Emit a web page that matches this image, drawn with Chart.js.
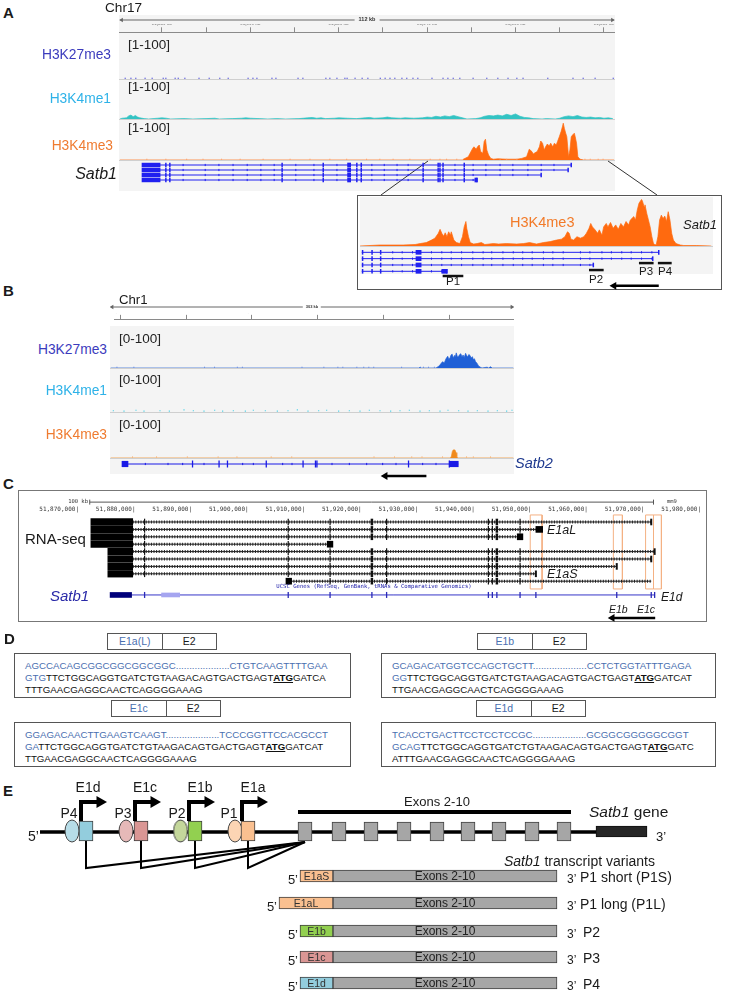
<!DOCTYPE html>
<html>
<head>
<meta charset="utf-8">
<title>Satb1 / Satb2 promoters</title>
<script src="https://cdn.jsdelivr.net/npm/chart.js@4.4.1/dist/chart.umd.min.js"></script>
<style>
  body { margin: 0; background: #fff; }
  #page { position: relative; width: 729px; height: 993px; overflow: hidden; font-family: Arial, "Liberation Sans", sans-serif; color: #1a1a1a; }
  #page canvas { position: absolute; }
  .t { position: absolute; white-space: nowrap; }
  .r { position: absolute; box-sizing: border-box; }
  .seq { position: absolute; box-sizing: border-box; border: 1.3px solid #555; font-size: 9.7px; line-height: 11.8px; padding: 6px 0 0 10px; white-space: nowrap; color: #111; }
  .seq .b { color: #4a6fb0; }
  .seq u { font-weight: bold; }
  .lab { position: absolute; box-sizing: border-box; border: 1.3px solid #555; display: flex; font-size: 10.5px; }
  .lab span { flex: 1; text-align: center; line-height: 14px; }
</style>
</head>
<body>
<div id="page"></div>
<script>
// ---------- A: chr17, Satb1 locus (kb) ----------
const aRange = [51870.3, 51982.5];
const aK27Dots = [51871.7, 51873.0, 51874.1, 51876.2, 51877.8, 51880.3, 51880.9, 51883.0, 51883.7, 51885.2, 51888.4, 51890.7, 51893.1, 51895.0, 51899.5, 51900.6, 51901.5, 51904.9, 51905.8, 51910.8, 51911.9, 51917.1, 51918.0, 51919.6, 51921.4, 51921.9, 51923.7, 51925.3, 51926.6, 51929.4, 51930.5, 51931.6, 51932.7, 51934.3, 51935.4, 51936.8, 51937.9, 51941.1, 51943.6, 51944.7, 51945.9, 51947.4, 51950.4, 51953.5, 51956.0, 51958.3, 51960.3, 51961.7, 51967.3, 51973.0, 51975.3, 51978.0, 51982.1];
const aK4me1 = [[51870.5,0],[51871,2],[51872,3],[51872.5,8],[51873,10],[51873.5,6],[51874,9],[51874.5,5],[51875,3],[51876,1],[51877,0],[51879,2],[51880,3],[51881,2],[51882,0],[51885,1],[51887,0],[51890,1],[51892,2],[51893,0],[51896,1],[51898,2],[51899,3],[51900,2],[51902,1],[51904,0],[51906,1],[51908,0],[51911,1],[51913,3],[51914,4],[51915,2],[51916,3],[51917,1],[51919,2],[51920,3],[51922,2],[51924,1],[51926,3],[51927,4],[51928,2],[51930,3],[51931,5],[51932,3],[51934,2],[51935,3],[51937,2],[51939,3],[51940,5],[51941,4],[51942,7],[51943,5],[51944,8],[51945,6],[51946,9],[51947,6],[51948,3],[51949,0],[51951,1],[51952,3],[51953,7],[51954,9],[51955,8],[51956,10],[51957,8],[51958,12],[51959,9],[51960,13],[51961,7],[51962,4],[51963,3],[51964,1],[51966,0],[51967,1],[51969,0],[51970,2],[51971,6],[51972,8],[51973,6],[51974,9],[51975,5],[51976,4],[51977,5],[51978,3],[51979,4],[51980,2],[51981,3],[51982,1]];
const aK4me3 = [[51870.5,0],[51948.0,0],[51948.2,2],[51949.3,8],[51950.3,29],[51950.6,33],[51951.1,27],[51951.4,33],[51951.8,37.5],[51952.1,21],[51952.6,17],[51952.9,46],[51953.2,52],[51953.5,25],[51953.9,12.5],[51954.4,4],[51955.0,2],[51956.0,3],[51958.0,2],[51960.3,2],[51961.4,4],[51962.5,8],[51963.1,27],[51963.7,21],[51964.0,15],[51964.4,18],[51964.9,21],[51965.4,33],[51965.7,47.5],[51966.1,42],[51966.5,25],[51966.8,33],[51967.2,40],[51967.6,35],[51967.96,42],[51968.4,33],[51968.8,42],[51969.2,37.5],[51969.5,46],[51969.9,58],[51970.3,71],[51970.6,83],[51970.8,92],[51971.05,79],[51971.35,67],[51971.6,58],[51971.8,33],[51972.0,8],[51972.3,25],[51972.6,58],[51972.9,62.5],[51973.3,67],[51973.5,58],[51973.8,42],[51974.1,8],[51974.6,2],[51975.4,0],[51982.3,0]];
const aK4me3Dots = [51876.6, 51880.9, 51885.6, 51889.3, 51893.5, 51897.7, 51902.9, 51909.0, 51913.5, 51918.0, 51921.8, 51926.3, 51929.3, 51932.3, 51936.1, 51940.7, 51942.9, 51944.4, 51946.7, 51956.5, 51958.0, 51960.3, 51975.7, 51976.9, 51978.7, 51979.8];
const aSatb1Rows = [[51875.5, 51972.6], [51875.5, 51971.9], [51875.5, 51965.8], [51875.5, 51951.3]];
const aSatb1Utr = [51875.5, 51879.6];
const aSatb1Wide = [51922.0, 51922.7];
const aSatb1EndBlock = [51950.8, 51951.3];
const aSatb1Exons = [51880.9, 51881.8, 51907.2, 51916.5, 51924.1, 51925.1, 51939.1, 51942.5, 51942.9, 51943.6, 51948.4];
const aSatb1Arrows = [51884.8, 51889.8, 51892.9, 51896.1, 51899.3, 51902.4, 51905.4, 51910.3, 51914.4, 51919.6, 51927.5, 51930.3, 51933.2, 51935.7, 51946.3, 51950.4, 51953.3, 51956.5, 51959.4, 51962.8, 51965.8, 51968.7];

// A inset (zoom on promoters)
const aInsetRange = [51941, 51982];
const aInset = [[51941.0,0],[51943.3,2],[51946.0,2],[51947.4,3],[51948.0,5],[51948.7,7],[51949.3,12],[51949.7,16],[51950.1,26],[51950.3,34],[51950.5,26],[51950.7,20],[51950.9,27],[51951.1,19],[51951.3,29],[51951.5,22],[51951.6,29],[51951.9,12],[51952.2,7],[51952.6,5],[51952.9,19],[51953.1,39],[51953.3,50],[51953.4,36],[51953.6,19],[51953.8,7],[51954.2,4],[51954.6,5],[51955.1,7],[51955.5,3],[51956.5,5],[51957.1,4],[51958.0,5],[51959.2,4],[51960.0,5],[51960.7,7],[51961.5,4],[51962.3,7],[51963.1,9],[51963.8,12],[51964.4,14],[51964.8,19],[51965.1,29],[51965.3,26],[51965.5,14],[51965.8,12],[51966.2,19],[51966.6,16],[51967.0,19],[51967.3,26],[51967.6,36],[51967.8,46],[51968.0,39],[51968.3,33],[51968.6,26],[51968.8,33],[51969.1,22],[51969.3,39],[51969.6,46],[51969.8,39],[51970.1,48],[51970.4,36],[51970.7,43],[51971.0,34],[51971.3,46],[51971.6,39],[51971.9,50],[51972.2,43],[51972.4,53],[51972.8,60],[51973.0,53],[51973.2,73],[51973.4,87],[51973.5,90],[51973.7,95],[51973.8,92],[51974.0,80],[51974.1,84],[51974.3,67],[51974.5,53],[51974.7,39],[51974.9,19],[51975.1,4],[51975.4,2],[51975.6,19],[51975.8,53],[51976.0,63],[51976.2,56],[51976.4,61],[51976.6,50],[51976.8,70],[51977.0,53],[51977.2,26],[51977.4,12],[51977.7,5],[51978.2,2],[51978.6,1],[51980.1,1],[51981.8,0]];
const aInsetRows = [[51941.2, 51975.7], [51941.2, 51975.0], [51941.2, 51968.1], [51941.2, 51951.1]];
const aInsetExons = [51941.3, 51942.4, 51943.4];
const aInsetWide = [51947.5, 51948.1];
const aInsetEndBlock = [51950.5, 51951.1];
const aInsetArrows = [51944.8, 51945.9, 51947.1, 51949.3, 51950.5, 51951.6, 51952.8, 51954.1, 51955.3, 51956.3, 51957.6, 51958.8, 51959.9, 51961.0, 51962.3, 51963.4, 51964.6, 51966.6, 51967.7, 51969.1, 51970.2, 51971.4, 51972.5, 51973.7, 51974.9];
const aPromoters = ['P1', 'P2', 'P3', 'P4'];
const aPromoterSpan = [[51950.6, 51953.0], [51967.6, 51969.3], [51973.4, 51975.1], [51975.6, 51977.2]];
const aPromoterRow = [3.74, 2.8, 1.7, 1.7];
const aDirArrow = [51975.7, 51970.5];

// ---------- B: chr1, Satb2 locus (kb) ----------
const bRange = [56795.5, 57098.5];
const bK27 = [[56796,0],[57027,0],[57028.2,2],[57029,0],[57040,0],[57042.4,5],[57043.6,10],[57044.9,15],[57046.2,12],[57047.5,22],[57048.8,28],[57049.7,20],[57050.6,25],[57051.3,31],[57052.1,33],[57053.0,24],[57053.9,30],[57054.5,27],[57055.2,36],[57056.1,26],[57057.0,28],[57057.8,32],[57058.6,34],[57059.5,26],[57060.3,31],[57061.2,25],[57062.2,35],[57063.0,29],[57063.7,27],[57064.6,32],[57065.5,30],[57066.4,24],[57067.3,27],[57068.0,20],[57068.8,22],[57069.7,15],[57070.6,12],[57071.9,5],[57073.2,2],[57074.5,0],[57078.3,2],[57079.5,0],[57080.9,3],[57082.1,0],[57098,0]];
const bK27Dots = [56800.7, 56813.4, 56866.4, 56873.9, 56891.0, 56894.8, 56939.5, 56955.9, 56966.4, 56970.1, 56980.6, 56985.8, 56989.6, 56993.3, 57014.2, 57030.6, 57034.4, 57038.8];
const bK4me1 = [[56798,3],[56806,2],[56815,4],[56821,2],[56833,3],[56840,2],[56851,5],[56858,3],[56866,2],[56874,4],[56880,2],[56888,3],[56897,2],[56903,4],[56912,3],[56921,2],[56929,3],[56936,5],[56944,2],[56952,3],[56958,4],[56967,2],[56975,3],[56983,2],[56990,4],[56998,3],[57006,2],[57013,3],[57020,4],[57028,2],[57035,3],[57043,2],[57049,4],[57057,3],[57064,2],[57071,3],[57079,2],[57086,3],[57093,2],[57097,4]];
const bK4me3 = [[56796,0],[57050.8,0],[57051.6,4],[57052.2,14],[57052.9,18],[57054.2,18],[57055.0,12],[57055.6,3],[57056.3,0],[57098,0]];
const bK4me3Dots = [56812.4, 56830.4, 56853.5, 56876.6, 56890.7, 56916.4, 56931.8, 56993.5, 57008.9, 57021.8, 57029.5, 57044.9, 57062.9, 57068.0, 57080.9];
const bSatb2 = [56804.5, 57056.7];
const bSatb2Blocks = [[56804.5, 56809.0], [57050.0, 57056.7]];
const bSatb2Exons = [56857.4, 56877.3, 56883.6, 56912.7, 56940.3, 56949.6, 56950.7, 57019.4, 57050.0];
const bSatb2Arrows = [56822, 56839, 56850, 56866, 56895, 56903, 56925, 56932, 56962, 56975, 56988, 57000, 57010, 57030, 57040];
const bDirArrow = [57032.8, 57001.9];

// ---------- C: UCSC RNA-seq (kb, mm9) ----------
const cRange = [51870, 51980];
const cScaleBar = [51871.9, 51971.6];
const cRowStart = [51872.1, 51872.1, 51872.1, 51872.1, 51875.1, 51875.1, 51875.1, 51875.1, 51907.0];
const cRowEnd = [51971.2, 51952.0, 51948.0, 51914.4, 51971.8, 51971.2, 51965.1, 51950.8, 51971.2];
const cBlockEnd = 51879.5;
const cExons = [51881.6, 51907.0, 51914.4, 51921.8, 51924.4, 51942.4, 51943.1, 51943.9, 51948.0];
const cThickExons = [51921.8, 51943.9];
const cEndBlocks = [[51950.8, 51952.0, 1], [51947.5, 51948.5, 2], [51913.9, 51914.9, 3], [51906.6, 51907.6, 8]];
const cGeneSpan = [51879.3, 51971.8];
const cGeneUtr = [51875.5, 51879.3];
const cGeneLight = [51884.6, 51887.8];
const cGeneExons = [51881.6, 51907.0, 51914.4, 51921.8, 51924.4, 51942.4, 51943.1, 51943.9, 51948.0, 51950.8, 51965.1, 51971.2, 51971.8];
const cExon1Boxes = [[51949.8, 51951.9], [51964.5, 51966.1], [51970.2, 51971.6], [51971.6, 51973.0]];
const cDirArrow = [51971.9, 51964.3];

// ---------- D: exon1/exon2 junction sequences ----------
const dLabels = ['E1a(L)', 'E1b', 'E1c', 'E1d'];
const dSeq = [
  ['AGCCACAGCGGCGGCGGCGGC....................CTGTCAAGTTTTGAA', 'GTG', 'GATCA', 'TTTGAACGAGGCAACTCAGGGGAAAG'],
  ['GCAGACATGGTCCAGCTGCTT....................CCTCTGGTATTTGAGA', 'GG', 'GATCAT', 'TTGAACGAGGCAACTCAGGGGAAAG'],
  ['GGAGACAACTTGAAGTCAAGT....................TCCCGGTTCCACGCCT', 'GA', 'GATCAT', 'TTGAACGAGGCAACTCAGGGGAAAG'],
  ['TCACCTGACTTCCTCCTCCGC....................GCGGCGGGGGCGGT', 'GCAG', 'GATC', 'ATTTGAACGAGGCAACTCAGGGGAAAG']
];
const dExon2 = 'TTCTGGCAGGTGATCTGTAAGACAGTGACTGAGT';

// ---------- E: schematic (schematic units) ----------
const eExon1 = ['E1d', 'E1c', 'E1b', 'E1a'];
const ePromoter = ['P4', 'P3', 'P2', 'P1'];
const eExon1Span = [[59, 73], [114, 128], [168, 182], [221, 235]];
const eExon1Color = ['#93cddd', '#da9694', '#92d050', '#fac090'];
const eOvalX = [52, 106, 160.5, 215];
const eOvalColor = ['#b7dde8', '#e6b9b8', '#c4d79b', '#fcd5b4'];
const eTssX = [61, 115, 169, 222];
const eSpliceX = [66, 121, 175, 228];
const eExonStarts = [278, 312, 344, 377, 410, 441, 472, 505, 537];
const eExonWidth = 14;
const eUtr3 = [576, 627];
const eVariants = ['P1 short (P1S)', 'P1 long (P1L)', 'P2', 'P3', 'P4'];
const eVarExon1 = ['E1aS', 'E1aL', 'E1b', 'E1c', 'E1d'];
const eVarStart = [280, 259, 280, 280, 280];
const eVarColor = ['#fac090', '#fac090', '#92d050', '#da9694', '#93cddd'];
const eVarRow = [86, 113, 141, 167, 193];
const eVarJoin = 313, eVarEnd = 537;

// ---------- helpers ----------
Chart.defaults.font.family = 'Arial, "Liberation Sans", sans-serif';
const page = document.getElementById('page');

function label(html, x, y, css, align) {
  const d = document.createElement('div');
  d.className = 't';
  d.innerHTML = html;
  d.style.cssText = (css || '') + ';line-height:1';
  d.style.left = x + 'px';
  d.style.top = y + 'px';
  const dx = align === 'right' ? '-100%' : align === 'center' ? '-50%' : '0';
  d.style.transform = 'translate(' + dx + ',-50%)';
  page.appendChild(d);
  return d;
}
function block(x, y, w, h, css) {
  const d = document.createElement('div');
  d.className = 'r';
  d.style.cssText = css || '';
  Object.assign(d.style, { left: x + 'px', top: y + 'px', width: w + 'px', height: h + 'px' });
  page.appendChild(d);
  return d;
}
function plot(x, y, w, h, datasets, xs, ys, pad) {
  const c = document.createElement('canvas');
  c.width = w; c.height = h;
  c.style.left = x + 'px'; c.style.top = y + 'px';
  page.appendChild(c);
  return new Chart(c, {
    type: 'scatter',
    data: { datasets: datasets.slice().reverse() },
    options: {
      responsive: false, animation: false, devicePixelRatio: 1, events: [],
      layout: { autoPadding: false, padding: Object.assign({ left: 0, right: 0, top: 0, bottom: 0 }, pad || {}) },
      plugins: { legend: { display: false }, tooltip: { enabled: false } },
      scales: {
        x: Object.assign({ type: 'linear', display: false, offset: false }, xs),
        y: Object.assign({ type: 'linear', display: false, offset: false }, ys)
      }
    }
  });
}
const area = (pairs, color) => ({ type: 'line', data: pairs.map(([x, y]) => ({ x, y })), fill: 'origin', backgroundColor: color, borderColor: color, borderWidth: 0.7, pointRadius: 0, tension: 0 });
const dots = (pairs, color, r) => ({ type: 'scatter', data: pairs.map(([x, y]) => ({ x, y })), pointStyle: 'rect', pointRadius: r, backgroundColor: color, borderWidth: 0, clip: false });
const seg = (x1, x2, y, color, w, dash) => ({ type: 'line', data: [{ x: x1, y }, { x: x2, y }], borderColor: color, borderWidth: w, borderDash: dash || [], borderCapStyle: 'butt', pointRadius: 0, fill: false, clip: false });
const path = (pts, color, w) => ({ type: 'line', data: pts.map(([x, y]) => ({ x, y })), borderColor: color, borderWidth: w, borderJoinStyle: 'miter', borderCapStyle: 'butt', pointRadius: 0, fill: false, clip: false });
const ticks = (xs, y, color, half, lw) => ({ type: 'scatter', data: xs.map(x => ({ x, y })), pointStyle: 'line', pointRotation: 90, pointRadius: half, borderColor: color, borderWidth: lw, clip: false });
const tri = (x, y, rot, r, color) => ({ type: 'scatter', data: [{ x, y }], pointStyle: 'triangle', pointRotation: rot, pointRadius: r, backgroundColor: color, borderColor: color, borderWidth: 0, clip: false });
const boxes = (list, thick, fill, stroke, bw) => ({ type: 'bar', indexAxis: 'y', grouped: false, data: list.map(([a, b, y]) => ({ x: [a, b], y })), barThickness: thick, backgroundColor: fill, borderColor: stroke || fill, borderWidth: bw || 0, borderSkipped: false, clip: false });
const ruler = (range, step, every, size) => ({
  min: range[0], max: range[1], display: true, position: 'top',
  grid: { drawOnChartArea: false, drawTicks: true, tickLength: 5, color: '#8a8a8a' },
  border: { display: true, color: '#8a8a8a' },
  ticks: { stepSize: step, includeBounds: false, autoSkip: false, maxTicksLimit: 100, maxRotation: 0, minRotation: 0, padding: 1, color: '#333',
    font: { size, weight: 'bold' }, callback: v => (Math.round(v) % every === 0 ? Math.round(v).toLocaleString('en-US') + ' kb' : '') }
});
const yTrack = { min: 0, max: 100 };
const rangeLine = (range, kbPad, color) => [seg(range[0] + kbPad / 2, range[1] - kbPad / 2, 0.5, color, 1), tri(range[0] + kbPad, 0.5, 270, 2.5, color), tri(range[1] - kbPad, 0.5, 90, 2.5, color)];

// ---------- backgrounds / frames ----------
const svgNS = 'http://www.w3.org/2000/svg';
const svg = document.createElementNS(svgNS, 'svg');
svg.setAttribute('width', '729'); svg.setAttribute('height', '300');
svg.style.cssText = 'position:absolute;left:0;top:0';
[[428, 161, 381, 195], [608, 161, 657, 195]].forEach(([x1, y1, x2, y2]) => {
  const l = document.createElementNS(svgNS, 'line');
  l.setAttribute('x1', x1); l.setAttribute('y1', y1); l.setAttribute('x2', x2); l.setAttribute('y2', y2);
  l.setAttribute('stroke', '#333'); l.setAttribute('stroke-width', '1');
  svg.appendChild(l);
});
block(119, 15, 496, 176, 'background:#f4f4f4');
[79, 119, 160].forEach(y => block(119, y, 496, 1, 'background:#cfcfcf'));
page.appendChild(svg);
block(357, 195, 365, 95, 'border:1.5px solid #555;background:#fff');
block(360, 197, 353, 77, 'background:#f4f4f4');
block(360, 246, 353, 1, 'background:#cfcfcf');
block(110, 326, 404, 148, 'background:#f4f4f4');
[368, 412, 458].forEach(y => block(110, y, 404, 1, 'background:#cfcfcf'));
block(18, 490, 689, 132, 'border:1.5px solid #777');

// ---------- A ----------
plot(119, 16, 496, 8, rangeLine(aRange, 0.6, '#666'), { min: aRange[0], max: aRange[1] }, { min: 0, max: 1 });
plot(119, 15, 496, 25, [], ruler(aRange, 10, 20, 4.5), { min: 0, max: 1 }, { top: 9.6 });
plot(119, 40, 496, 39, [dots(aK27Dots.map(k => [k, 2]), '#2b2bd6', 0.8)], { min: aRange[0], max: aRange[1] }, yTrack);
plot(119, 80, 496, 39, [area(aK4me1, '#33c3c3')], { min: aRange[0], max: aRange[1] }, yTrack);
plot(119, 120, 496, 40, [area(aK4me3, '#ff6a0f'), dots(aK4me3Dots.map(k => [k, 2]), '#ff9a60', 0.7)], { min: aRange[0], max: aRange[1] }, yTrack);

const blue = '#2020f0';
function igvGene(rows, exons, arrows, wide, endBlock, utr) {
  const ds = [];
  rows.forEach(([s, e], r) => {
    ds.push(seg(s, e, r, blue, 1));
    ds.push(ticks(arrows.filter(k => k > s && k < e), r, blue, 1.1, 1));
    ds.push(ticks(exons.filter(k => k <= e).concat([e]), r, blue, 2.3, 1.5));
  });
  ds.push(boxes(rows.map((_, r) => [wide[0], wide[1], r]), 4, blue));
  if (utr) ds.push(boxes(rows.map((_, r) => [utr[0], utr[1], r]), 3.8, blue));
  ds.push(boxes([[endBlock[0], endBlock[1], rows.length - 1]], 4, blue));
  return ds;
}
plot(119, 161, 496, 24, igvGene(aSatb1Rows, aSatb1Exons, aSatb1Arrows, aSatb1Wide, aSatb1EndBlock, aSatb1Utr),
  { min: aRange[0], max: aRange[1] }, { min: -0.8, max: 4.0, reverse: true });

// inset
plot(360, 197, 353, 49, [area(aInset, '#ff6a0f')], { min: aInsetRange[0], max: aInsetRange[1] }, yTrack);
const insetDs = igvGene(aInsetRows, aInsetExons, aInsetArrows, aInsetWide, aInsetEndBlock, null);
aPromoterSpan.forEach(([a, b], i) => insetDs.push(seg(a, b, aPromoterRow[i], '#111', 2.5)));
insetDs.push(seg(aDirArrow[0], aDirArrow[1], 5.3, '#000', 2.5), tri(aDirArrow[1], 5.3, 270, 4.5, '#000'));
plot(360, 246, 353, 46, insetDs, { min: aInsetRange[0], max: aInsetRange[1] }, { min: -1, max: 6.27, reverse: true });

label('A', 3, 12, 'font:bold 15px Arial');
label('Chr17', 105, 8, 'font:13.6px Arial');
label('112 kb', 367, 20, 'font:bold 5.5px Arial;color:#333;background:#f4f4f4;padding:0 4px', 'center');
[45, 87, 128].forEach(y => label('[1-100]', 128, y, 'font:13.5px Arial;color:#222'));
label('H3K27me3', 111, 55, 'font:13.8px Arial;color:#3b3bbd', 'right');
label('H3K4me1', 111, 99, 'font:13.8px Arial;color:#2eb2e8', 'right');
label('H3K4me3', 113, 146, 'font:13.8px Arial;color:#ef7b30', 'right');
label('<i>Satb1</i>', 117, 174, 'font:16px Arial', 'right');
label('H3K4me3', 510, 222, 'font:14.5px Arial;color:#f27a28');
label('<i>Satb1</i>', 683, 224, 'font:13px Arial');
[[453, 282], [596, 280], [646, 272], [665, 272]].forEach(([x, y], i) => label(aPromoters[i], x, y, 'font:11.5px Arial', 'center'));

// ---------- B ----------
plot(110, 302.5, 404, 8, rangeLine(bRange, 1.6, '#666'), { min: bRange[0], max: bRange[1] }, { min: 0, max: 1 });
plot(110, 302, 404, 24, [], ruler(bRange, 50, 100, 4), { min: 0, max: 1 }, { top: 11.7 });
plot(110, 326, 404, 42, [area(bK27, '#1f5fd6'), dots(bK27Dots.map(k => [k, 2]), '#5a7fe0', 0.7)], { min: bRange[0], max: bRange[1] }, yTrack);
plot(110, 369, 404, 43, [dots(bK4me1, '#45cfe6', 0.8)], { min: bRange[0], max: bRange[1] }, yTrack);
plot(110, 413, 404, 45, [area(bK4me3, '#f08a1c'), dots(bK4me3Dots.map(k => [k, 2]), '#f5a660', 0.7)], { min: bRange[0], max: bRange[1] }, yTrack);
plot(110, 458, 404, 22, [
  seg(bSatb2[0], bSatb2[1], 0, '#1a1ae6', 1),
  ticks(bSatb2Arrows, 0, '#1a1ae6', 1.1, 1),
  ticks(bSatb2Exons, 0, '#1a1ae6', 3.5, 1.3),
  boxes(bSatb2Blocks.map(([a, b]) => [a, b, 0]), 5.5, '#1a1ae6'),
  seg(bDirArrow[0], bDirArrow[1], 1, '#000', 2.5), tri(bDirArrow[1], 1, 270, 4.5, '#000')
], { min: bRange[0], max: bRange[1] }, { min: -0.5, max: 1.3333, reverse: true });

label('B', 3, 290, 'font:bold 15px Arial');
label('Chr1', 119, 300, 'font:13.2px Arial');
label('303 kb', 312, 306.5, 'font:bold 4px Arial;color:#333;background:#fff;padding:0 3px', 'center');
[338.5, 380, 424.6].forEach(y => label('[0-100]', 119, y, 'font:13.5px Arial;color:#222'));
label('H3K27me3', 107, 350, 'font:13.8px Arial;color:#3b3bbd', 'right');
label('H3K4me1', 107, 391, 'font:13.8px Arial;color:#2eb2e8', 'right');
label('H3K4me3', 107, 435, 'font:13.8px Arial;color:#ef7b30', 'right');
label('<i>Satb2</i>', 515, 463, 'font:14.5px Arial;color:#1f3a8f');

// ---------- C ----------
const cAxis = {
  min: cRange[0], max: cRange[1], display: true, position: 'bottom',
  grid: { display: false, drawTicks: false }, border: { display: false },
  ticks: { stepSize: 10, autoSkip: false, maxRotation: 0, minRotation: 0, align: 'end', padding: 1, color: '#333',
    font: { size: 6, family: '"DejaVu Sans Mono", monospace' }, callback: v => (Math.round(v) * 1000).toLocaleString('en-US') + '|' }
};
plot(18, 496, 689, 18, [seg(cScaleBar[0], cScaleBar[1], 0.68, '#555', 1), ticks(cScaleBar, 0.68, '#555', 2.5, 1)],
  cAxis, { min: 0, max: 1, reverse: true }, { left: 61, right: 6 });

const cDs = [];
cExon1Boxes.forEach(([a, b]) => cDs.push(path([[a, -0.95], [b, -0.95], [b, 9.05], [a, 9.05], [a, -0.95]], '#f4b183', 1)));
cRowStart.forEach((s, r) => {
  const e = cRowEnd[r];
  const from = Math.max(s, cBlockEnd);
  cDs.push(seg(from, e, r, '#222', 1));
  cDs.push(seg(from, e, r, '#222', 3, [1, 1.6]));
  const ex = cExons.filter(k => k >= from && k <= e);
  cDs.push(ticks(ex.filter(k => !cThickExons.includes(k)), r, '#111', 3.3, 1.2));
  cDs.push(ticks(ex.filter(k => cThickExons.includes(k)), r, '#111', 3.3, 2.5));
  if (!cEndBlocks.some(b => b[2] === r)) cDs.push(ticks([e], r, '#111', 3.3, 2));
});
cDs.push(boxes(cRowStart.map((s, r) => [s, cBlockEnd, r]).filter(b => b[0] < cBlockEnd), 6.6, '#000'));
cDs.push(boxes(cEndBlocks, 6, '#000'));
cDs.push(seg(cGeneSpan[0], cGeneSpan[1], 9.86, '#3535c8', 1));
cDs.push(boxes([[cGeneUtr[0], cGeneUtr[1], 9.86]], 5, '#00007a'));
cDs.push(boxes([[cGeneLight[0], cGeneLight[1], 9.86]], 4, '#a5a5f0'));
cDs.push(ticks(cGeneExons, 9.86, '#2a2ab8', 3, 1.3));
cDs.push(seg(cDirArrow[0], cDirArrow[1], 12.97, '#000', 2.5), tri(cDirArrow[1], 12.97, 270, 4.5, '#000'));
plot(18, 512, 689, 110, cDs, { min: cRange[0], max: cRange[1] }, { min: -1.351, max: 13.514, reverse: true }, { left: 61, right: 6 });

label('C', 3, 483, 'font:bold 15px Arial');
label('100 kb', 88, 502, 'font:5.5px "DejaVu Sans Mono";color:#333', 'right');
label('mm9', 667, 502, 'font:5.5px "DejaVu Sans Mono";color:#333');
label('RNA-seq', 25, 538, 'font:15px Arial');
label('<i>Satb1</i>', 50, 595, 'font:15px Arial;color:#2a2aa8');
label('UCSC Genes (RefSeq, GenBank, tRNAs &amp; Comparative Genomics)', 374, 587, 'font:5.6px "DejaVu Sans Mono";color:#2222aa', 'center');
label('<i>E1aL</i>', 547, 530, 'font:12.5px Arial');
label('<i>E1aS</i>', 547, 574, 'font:12.5px Arial');
label('<i>E1b</i>', 609, 609, 'font:10.5px Arial');
label('<i>E1c</i>', 637, 609, 'font:10.5px Arial');
label('<i>E1d</i>', 661, 597, 'font:12px Arial');

// ---------- D ----------
label('D', 4, 638, 'font:bold 15px Arial');
const dBox = [[14, 653, 337], [381, 653, 335], [14, 722, 337], [381, 722, 335]];
const dLab = [[107, 633], [477, 633], [111, 700], [476, 700]];
dSeq.forEach((s, i) => {
  const [x, y, w] = dBox[i];
  const b = document.createElement('div');
  b.className = 'seq';
  Object.assign(b.style, { left: x + 'px', top: y + 'px', width: w + 'px', height: '45px' });
  b.innerHTML = '<span class="b">' + s[0] + '</span><br><span class="b">' + s[1] + '</span>' + dExon2 + '<u>ATG</u>' + s[2] + '<br>' + s[3];
  page.appendChild(b);
  const l = document.createElement('div');
  l.className = 'lab';
  Object.assign(l.style, { left: dLab[i][0] + 'px', top: dLab[i][1] + 'px', width: '110px', height: '17px' });
  l.innerHTML = '<span style="color:#4a6fb0">' + dLabels[i] + '</span><span style="border-left:1.3px solid #555">E2</span>';
  page.appendChild(l);
});

// ---------- E ----------
function ovalImg(color) {
  const c = document.createElement('canvas');
  c.width = 16; c.height = 24;
  const g = c.getContext('2d');
  g.beginPath(); g.ellipse(8, 12, 7, 11, 0, 0, Math.PI * 2);
  g.fillStyle = color; g.fill();
  g.lineWidth = 1; g.strokeStyle = '#444'; g.stroke();
  return c;
}
const eDs = [
  seg(20, eUtr3[0], 42, '#000', 3.5),
  seg(eExonStarts[0], eExonStarts[eExonStarts.length - 1] + eExonWidth, 22, '#000', 4)
];
eSpliceX.forEach(x => eDs.push(path([[x, 50], [x, 78], [eExonStarts[0] + 7, 52]], '#000', 2)));
eDs.push({ type: 'scatter', data: eOvalX.map(x => ({ x, y: 41 })), pointStyle: eOvalColor.map(ovalImg), pointRadius: 11, clip: false });
eDs.push(boxes(eExon1Span.map(([a, b]) => [a, b, 41]), 20, eExon1Color, '#404040', 1));
eDs.push(boxes(eExonStarts.map(s => [s, s + eExonWidth, 41.5]), 19, '#a6a6a6', '#404040', 1));
eDs.push(boxes([[eUtr3[0], eUtr3[1], 41.5]], 11, '#262626', '#111', 1));
eTssX.forEach(x => eDs.push(path([[x, 31], [x, 12], [x + 16, 12]], '#000', 4), tri(x + 19, 12, 90, 7, '#000')));
eDs.push(boxes(eVarStart.map((s, i) => [s, eVarJoin, eVarRow[i]]), 12, eVarColor, '#404040', 1));
eDs.push(boxes(eVarRow.map(y => [eVarJoin, eVarEnd, y]), 12, '#a6a6a6', '#404040', 1));
plot(20, 785, 660, 208, eDs, { min: 0, max: 660 }, { min: -5, max: 203, reverse: true });

label('E', 3, 790, 'font:bold 15px Arial');
[88, 145, 200, 253].forEach((x, i) => label(eExon1[i], x, 787, 'font:14px Arial', 'center'));
[69, 123, 177, 229].forEach((x, i) => label(ePromoter[i], x, 813, 'font:14px Arial', 'center'));
label('5’', 28, 836, 'font:14px Arial');
label('3’', 656, 836, 'font:13px Arial');
label('Exons 2-10', 437, 801, 'font:13px Arial', 'center');
label('<i>Satb1</i> gene', 589, 812, 'font:15.5px Arial');
label('<i>Satb1</i> transcript variants', 504, 861, 'font:14px Arial');
[876, 903, 931, 957, 983].forEach((y, i) => {
  label('5’', i === 1 ? 277 : 298, y + 3, 'font:13px Arial', 'right');
  label(eVarExon1[i], i === 1 ? 306 : 316.5, y, 'font:10.5px Arial;color:#333', 'center');
  label('Exons 2-10', 445, y, 'font:12px Arial;color:#222', 'center');
  label('3’', 567, y + 3, 'font:12px Arial');
  label(eVariants[i], i < 2 ? 580 : 583, y + 1, 'font:14px Arial');
});
</script>
</body>
</html>
